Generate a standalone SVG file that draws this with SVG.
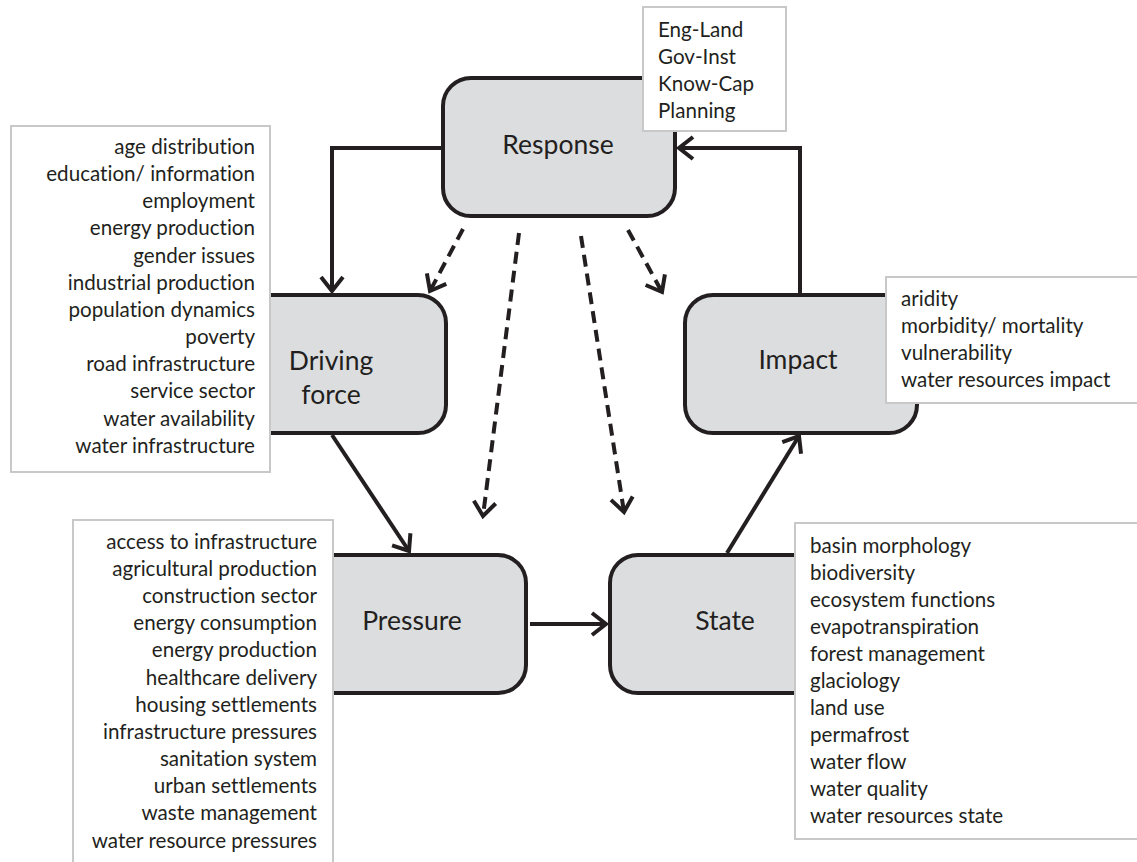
<svg xmlns="http://www.w3.org/2000/svg" width="1137" height="862" viewBox="0 0 1137 862">
<style>
text{font-variant-ligatures:none;font-feature-settings:"liga" 0,"clig" 0}
.node{fill:#dcdddf;stroke:#231f20;stroke-width:4}
.list{fill:#fff;stroke:#c8c8c8;stroke-width:2}
.lbl{font-family:Lato,"Liberation Sans",sans-serif;font-size:26.5px;fill:#231f20;text-anchor:middle}
.it{font-family:Lato,"Liberation Sans",sans-serif;font-size:20.6px;fill:#231f20}
.r{text-anchor:end}
.c{fill:none;stroke:#231f20;stroke-width:4}
.d{stroke-dasharray:12 7}
</style>
<defs>
<marker id="ah" markerUnits="userSpaceOnUse" markerWidth="20" markerHeight="24" refX="16" refY="12" orient="auto" overflow="visible">
<path d="M2,1 L16,12 L2,23" fill="none" stroke="#231f20" stroke-width="4"/>
</marker>
</defs>
<g id="connectors">
<polyline class="c" points="443,148 332,148 332,291" marker-end="url(#ah)"/>
<polyline class="c" points="800,293 800,148 679,148" marker-end="url(#ah)"/>
<line class="c" x1="332" y1="435" x2="409" y2="551" marker-end="url(#ah)"/>
<line class="c" x1="530" y1="624" x2="606" y2="624" marker-end="url(#ah)"/>
<line class="c" x1="727" y1="553" x2="799" y2="436" marker-end="url(#ah)"/>
<line class="c d" x1="463" y1="229" x2="430" y2="291" marker-end="url(#ah)"/>
<line class="c d" x1="519" y1="233" x2="483" y2="516" marker-end="url(#ah)"/>
<line class="c d" x1="581" y1="236" x2="624" y2="512" marker-end="url(#ah)"/>
<line class="c d" x1="628" y1="230" x2="662" y2="292" marker-end="url(#ah)"/>
</g>
<g id="response">
<rect class="node" x="443" y="78" width="232" height="138" rx="28"/>
<text class="lbl" x="558" y="154">Response</text>
<rect class="list" x="643" y="7" width="143" height="124"/>
<text class="it" x="658" y="37">Eng-Land</text>
<text class="it" x="658" y="64">Gov-Inst</text>
<text class="it" x="658" y="91">Know-Cap</text>
<text class="it" x="658" y="118">Planning</text>
</g>
<g id="driving">
<rect class="node" x="214" y="295" width="232" height="138" rx="28"/>
<text class="lbl" x="331" y="370">Driving</text>
<text class="lbl" x="331" y="404">force</text>
<rect class="list" x="11" y="126" width="259" height="346"/>
<g class="it r">
<text x="255" y="154">age distribution</text>
<text x="255" y="181">education/ information</text>
<text x="255" y="208">employment</text>
<text x="255" y="235">energy production</text>
<text x="255" y="263">gender issues</text>
<text x="255" y="290">industrial production</text>
<text x="255" y="317">population dynamics</text>
<text x="255" y="344">poverty</text>
<text x="255" y="371">road infrastructure</text>
<text x="255" y="398">service sector</text>
<text x="255" y="426">water availability</text>
<text x="255" y="453">water infrastructure</text>
</g>
</g>
<g id="pressure">
<rect class="node" x="294" y="555" width="232" height="138" rx="28"/>
<text class="lbl" x="412" y="630">Pressure</text>
<rect class="list" x="73" y="520" width="260" height="350"/>
<g class="it r">
<text x="317" y="549">access to infrastructure</text>
<text x="317" y="576">agricultural production</text>
<text x="317" y="603">construction sector</text>
<text x="317" y="630">energy consumption</text>
<text x="317" y="657">energy production</text>
<text x="317" y="685">healthcare delivery</text>
<text x="317" y="712">housing settlements</text>
<text x="317" y="739">infrastructure pressures</text>
<text x="317" y="766">sanitation system</text>
<text x="317" y="793">urban settlements</text>
<text x="317" y="820">waste management</text>
<text x="317" y="848">water resource pressures</text>
</g>
</g>
<g id="state">
<rect class="node" x="610" y="555" width="232" height="138" rx="28"/>
<text class="lbl" x="725" y="630">State</text>
<rect class="list" x="795" y="523" width="350" height="316"/>
<g class="it">
<text x="810" y="553">basin morphology</text>
<text x="810" y="580">biodiversity</text>
<text x="810" y="607">ecosystem functions</text>
<text x="810" y="634">evapotranspiration</text>
<text x="810" y="661">forest management</text>
<text x="810" y="688">glaciology</text>
<text x="810" y="715">land use</text>
<text x="810" y="742">permafrost</text>
<text x="810" y="769">water flow</text>
<text x="810" y="796">water quality</text>
<text x="810" y="823">water resources state</text>
</g>
</g>
<g id="impact">
<rect class="node" x="685" y="295" width="232" height="138" rx="28"/>
<text class="lbl" x="798" y="369">Impact</text>
<rect class="list" x="886" y="277" width="260" height="126"/>
<g class="it">
<text x="901" y="306">aridity</text>
<text x="901" y="333">morbidity/ mortality</text>
<text x="901" y="360">vulnerability</text>
<text x="901" y="387">water resources impact</text>
</g>
</g>
</svg>
